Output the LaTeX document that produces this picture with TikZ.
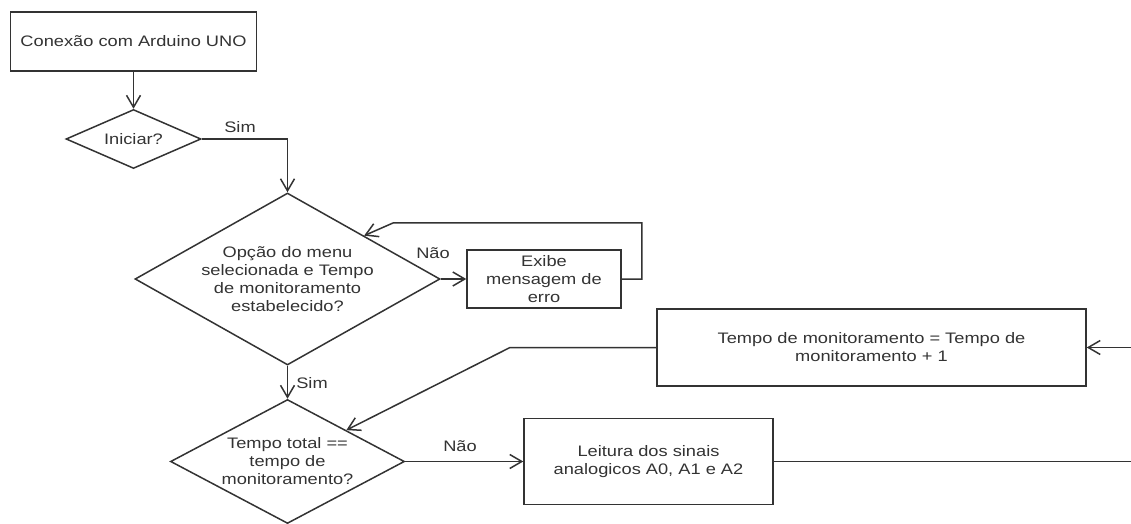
\documentclass[tikz,border=0pt]{standalone}
\usepackage{fontspec}
\setmainfont[FakeStretch=1.2]{Liberation Sans}
\usetikzlibrary{shapes.geometric,arrows.meta,calc}

\begin{document}
\begin{tikzpicture}[x=0.5pt, y=-0.5pt, >={Straight Barb[length=6pt,width=7pt]},
		line width=0.75pt, color=black!80, font=\fontsize{7.6}{9}\selectfont]
			\tikzset{
				caixa/.style={draw, rectangle, align=center, inner sep=0pt},
				decisao/.style={draw, diamond, align=center, inner sep=0pt},
				rotulo/.style={inner sep=0pt}
			}
			\useasboundingbox (0,0) rectangle (1131,524);

			% Caixas
			\node[caixa, minimum width=123pt, minimum height=29.5pt] (CONEXAO) at (133.5,41.5) {Conexão com Arduino UNO};
			\node[caixa, minimum width=77pt, minimum height=29pt] (EXIBE) at (544,279) {Exibe\\mensagem de\\erro};
			\node[caixa, minimum width=214.5pt, minimum height=38.5pt] (INCREMENTO) at (871.5,347.5) {Tempo de monitoramento = Tempo de\\monitoramento + 1};
			\node[caixa, minimum width=124.5pt, minimum height=43pt] (LEITURA) at (648.5,461.5) {Leitura dos sinais\\analogicos A0, A1 e A2};

			% Decisões
			\node[decisao, aspect=2.29, minimum width=67.5pt, minimum height=29.5pt] (INICIAR) at (133.5,139) {Iniciar?};
			\node[decisao, aspect=1.77, minimum width=152.5pt, minimum height=86pt] (OPCAO) at (287.5,279) {Opção do menu\\selecionada e Tempo\\de monitoramento\\estabelecido?};
			\node[decisao, aspect=1.89, minimum width=117pt, minimum height=62pt] (TEMPOTOTAL) at (287.5,461.5) {Tempo total ==\\tempo de\\monitoramento?};

			% Pontos auxiliares
			\coordinate (VOLTA) at (393,223); % retorno do erro
			\coordinate (CANTO) at (510,347.5); % dobra do incremento
			\coordinate (SAIDA) at (1131,461.5); % borda direita
			\coordinate (ENTRADA) at (1131,347.5); % borda direita

			% Ligações
			\draw[->] (CONEXAO.south) -- (INICIAR.north);
			\draw[->] (INICIAR.east) -| (OPCAO.north);
			\draw[->] (OPCAO.east) -- (EXIBE.west);
			\draw[->] (EXIBE.east) -- ++(20,0) |- (VOLTA) -- ($(OPCAO.north)!0.5!(OPCAO.east)$);
			\draw[->] (OPCAO.south) -- (TEMPOTOTAL.north);
			\draw[->] (TEMPOTOTAL.east) -- (TEMPOTOTAL.east -| LEITURA.west);
			\draw (LEITURA.east) -- (SAIDA);
			\draw[->] (ENTRADA) -- (INCREMENTO.east);
			\draw[->] (INCREMENTO.west) -- (CANTO) -- ($(TEMPOTOTAL.north)!0.5!(TEMPOTOTAL.east)$);

			% Rótulos
			\node[rotulo] (SIM1) at (240,127) {Sim};
			\node[rotulo] (NAO1) at (433,253) {Não};
			\node[rotulo] (SIM2) at (312,383) {Sim};
			\node[rotulo] (NAO2) at (460,446) {Não};

		\end{tikzpicture}
\end{document}
